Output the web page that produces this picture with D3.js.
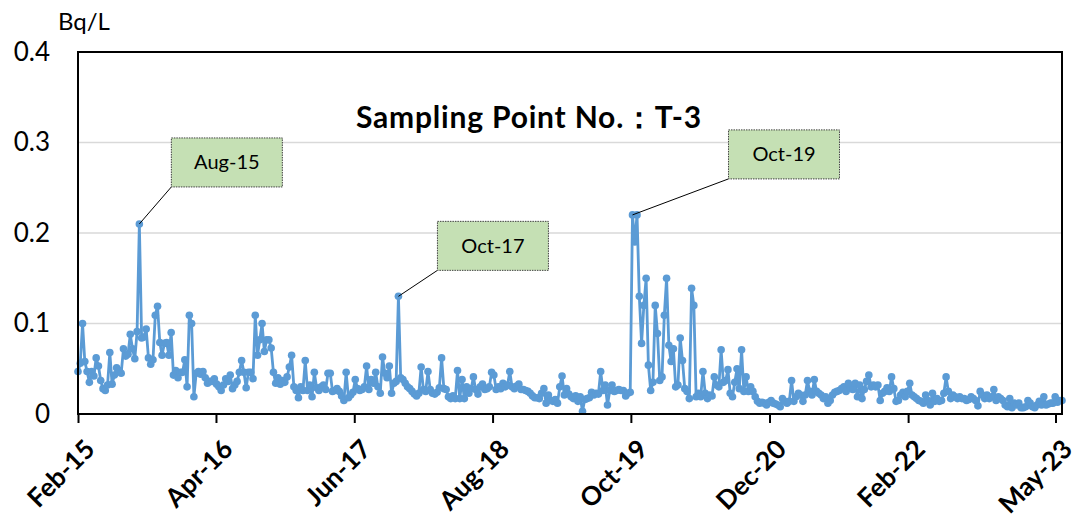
<!DOCTYPE html>
<html>
<head>
<meta charset="utf-8">
<script src="https://d3js.org/d3.v7.min.js"></script>
<style>
	body { margin: 0; background: #ffffff; }
	svg text { font-family: Lato, "Open Sans", sans-serif; }
</style>
</head>
<body>
<div id="chart"></div>
<script>

//Chart texts
var title = "Sampling Point No.\uFF1AT-3";
var unit = "Bq/L";

//Samples are weekly, the first one taken at the start of Feb 2015
var firstSample = "2015-02-01";

var tickLabels = ["Feb-15", "Apr-16", "Jun-17", "Aug-18", "Oct-19", "Dec-20", "Feb-22", "May-23"];
var yTicks = [0, 0.1, 0.2, 0.3, 0.4];

//Months whose peak gets a callout
var calloutLabels = ["Aug-15", "Oct-17", "Oct-19"];

//Weekly readings (Bq/L), one array per year
var values2015 = [0.047, 0.056, 0.100, 0.058, 0.047, 0.035, 0.047, 0.042, 0.062, 0.053, 0.037, 0.028,
	0.026, 0.032, 0.068, 0.033, 0.043, 0.051, 0.048, 0.045, 0.072, 0.064, 0.066, 0.088,
	0.072, 0.061, 0.091, 0.210, 0.084, 0.085, 0.094, 0.062, 0.055, 0.060, 0.109, 0.119,
	0.079, 0.065, 0.078, 0.079, 0.065, 0.090, 0.043, 0.048, 0.040, 0.046, 0.046, 0.060];

var values2016 = [0.030, 0.109, 0.100, 0.019, 0.045, 0.047, 0.044, 0.047, 0.040, 0.034, 0.036, 0.036,
	0.039, 0.033, 0.030, 0.026, 0.032, 0.039, 0.036, 0.043, 0.028, 0.032, 0.036, 0.046,
	0.059, 0.046, 0.029, 0.046, 0.046, 0.039, 0.109, 0.065, 0.082, 0.100, 0.069, 0.082,
	0.082, 0.073, 0.046, 0.034, 0.040, 0.033, 0.037, 0.035, 0.041, 0.052, 0.065, 0.030,
	0.026, 0.018, 0.030, 0.026];

var values2017 = [0.059, 0.026, 0.032, 0.019, 0.046, 0.029, 0.026, 0.030, 0.032, 0.027, 0.045, 0.045,
	0.025, 0.026, 0.028, 0.025, 0.020, 0.015, 0.046, 0.018, 0.021, 0.024, 0.038, 0.028,
	0.026, 0.027, 0.030, 0.053, 0.027, 0.038, 0.034, 0.046, 0.030, 0.023, 0.063, 0.045,
	0.040, 0.053, 0.023, 0.034, 0.036, 0.130, 0.040, 0.038, 0.034, 0.030, 0.028, 0.025,
	0.022, 0.020, 0.023, 0.052];

var values2018 = [0.027, 0.025, 0.047, 0.027, 0.023, 0.022, 0.024, 0.029, 0.062, 0.028, 0.027, 0.019,
	0.017, 0.020, 0.017, 0.048, 0.017, 0.038, 0.017, 0.030, 0.023, 0.028, 0.041, 0.027,
	0.022, 0.030, 0.033, 0.027, 0.028, 0.030, 0.046, 0.043, 0.027, 0.030, 0.028, 0.034,
	0.030, 0.032, 0.047, 0.030, 0.028, 0.031, 0.033, 0.027, 0.027, 0.026, 0.025, 0.023,
	0.020, 0.018, 0.018, 0.017];

var values2019 = [0.023, 0.028, 0.012, 0.021, 0.015, 0.014, 0.016, 0.012, 0.030, 0.042, 0.021, 0.028,
	0.022, 0.019, 0.017, 0.020, 0.014, 0.019, 0.003, 0.016, 0.017, 0.018, 0.024, 0.021,
	0.023, 0.022, 0.047, 0.026, 0.032, 0.010, 0.026, 0.032, 0.025, 0.026, 0.027, 0.026,
	0.026, 0.020, 0.023, 0.024, 0.220, 0.190, 0.220, 0.130, 0.078, 0.120, 0.150, 0.054,
	0.026, 0.035, 0.120, 0.089];

var values2020 = [0.037, 0.041, 0.109, 0.150, 0.076, 0.058, 0.072, 0.030, 0.032, 0.084, 0.059, 0.028,
	0.025, 0.017, 0.139, 0.120, 0.019, 0.023, 0.019, 0.047, 0.023, 0.017, 0.021, 0.020,
	0.041, 0.032, 0.030, 0.071, 0.035, 0.037, 0.049, 0.023, 0.019, 0.035, 0.050, 0.028,
	0.071, 0.025, 0.041, 0.025, 0.030, 0.025, 0.019, 0.014, 0.012, 0.013, 0.012, 0.010,
	0.013, 0.015, 0.012, 0.011];

var values2021 = [0.010, 0.008, 0.017, 0.014, 0.012, 0.014, 0.037, 0.014, 0.019, 0.023, 0.021, 0.014,
	0.021, 0.037, 0.025, 0.021, 0.038, 0.025, 0.023, 0.021, 0.017, 0.019, 0.012, 0.015,
	0.021, 0.024, 0.025, 0.026, 0.028, 0.030, 0.025, 0.034, 0.028, 0.027, 0.034, 0.019,
	0.032, 0.017, 0.027, 0.036, 0.043, 0.030, 0.032, 0.030, 0.032, 0.015, 0.023, 0.025,
	0.029, 0.025, 0.041, 0.028];

var values2022 = [0.014, 0.015, 0.021, 0.024, 0.019, 0.025, 0.034, 0.021, 0.019, 0.017, 0.015, 0.014,
	0.012, 0.021, 0.015, 0.010, 0.023, 0.014, 0.017, 0.014, 0.015, 0.023, 0.041, 0.025,
	0.017, 0.021, 0.019, 0.017, 0.019, 0.017, 0.017, 0.015, 0.016, 0.019, 0.017, 0.015,
	0.009, 0.025, 0.021, 0.017, 0.021, 0.017, 0.019, 0.027, 0.015, 0.019, 0.017, 0.015,
	0.010, 0.008, 0.017, 0.007];

var values2023 = [0.012, 0.010, 0.012, 0.007, 0.007, 0.008, 0.015, 0.012, 0.008, 0.007, 0.010, 0.014,
	0.010, 0.019, 0.010, 0.011, 0.012, 0.012, 0.019, 0.013, 0.015, 0.015];


var width = 1073;
var height = 526;
var plot = {left: 78, top: 52, right: 1062, bottom: 414};

var lineColor = "#5B9BD5";

//Callout box position relative to the peak it points to
var calloutLayout = [
	{dx: 32, dy: -86},
	{dx: 39, dy: -75},
	{dx: 96, dy: -85}
];
var boxW = 111;
var boxH = 49;

var parseIso = d3.timeParse("%Y-%m-%d");
var parseLabel = d3.timeParse("%b-%y");

//Put the yearly arrays together into one weekly series
var allValues = [].concat(values2015, values2016, values2017, values2018, values2019,
	values2020, values2021, values2022, values2023);

var start = parseIso(firstSample);
var data = allValues.map(function(v, i)
	{
		return {date: d3.timeDay.offset(start, 7 * i), value: v};
	}
);

var svg = d3.select("#chart")
	.append("svg")
		.attr("width", width)
		.attr("height", height);

var x = d3.scaleTime()
	.domain([data[0].date, data[data.length - 1].date])
	.range([plot.left, plot.right]);

var y = d3.scaleLinear()
	.domain([0, 0.4])
	.range([plot.bottom, plot.top]);

//gridlines
svg.append("g")
	.attr("class", "grid")
	.selectAll("line")
	.data(yTicks)
	.enter()
		.append("line")
			.attr("x1", plot.left)
			.attr("x2", plot.right)
			.attr("y1", function(d){return y(d);})
			.attr("y2", function(d){return y(d);})
			.attr("stroke", "#d9d9d9")
			.attr("stroke-width", 1.5);

//y axis labels only, no ticks
var yAxis = d3.axisLeft(y)
	.tickValues(yTicks)
	.tickSize(0)
	.tickPadding(28)
	.tickFormat(function(d){return d === 0 ? "0" : d3.format(".1f")(d);});

var gy = svg.append("g")
	.attr("transform", "translate(" + plot.left + ",0)")
	.call(yAxis);

gy.select(".domain").remove();
gy.selectAll("text")
	.attr("font-family", "Lato, sans-serif")
	.attr("font-size", 26)
	.attr("fill", "#000");

//x axis
var tickDates = tickLabels.map(function(t){return parseLabel(t);});

var xAxis = d3.axisBottom(x)
	.tickValues(tickDates)
	.tickSize(9)
	.tickSizeOuter(0)
	.tickFormat(d3.timeFormat("%b-%y"));

var gx = svg.append("g")
	.attr("transform", "translate(0," + plot.bottom + ")")
	.call(xAxis);

gx.select(".domain").remove();
gx.selectAll(".tick line")
	.attr("stroke", "#000")
	.attr("stroke-width", 2);

gx.selectAll(".tick text")
	.attr("font-family", "Lato, sans-serif")
	.attr("font-weight", "bold")
	.attr("font-size", 26)
	.attr("fill", "#000")
	.attr("text-anchor", "end")
	.attr("dy", "0.35em")
	.attr("transform", "translate(3,22) rotate(-45)");

//series
var line = d3.line()
	.x(function(d){return x(d.date);})
	.y(function(d){return y(d.value);});

svg.append("path")
	.datum(data)
	.attr("fill", "none")
	.attr("stroke", lineColor)
	.attr("stroke-width", 2.8)
	.attr("stroke-linejoin", "round")
	.attr("d", line);

svg.append("g")
	.selectAll("circle")
	.data(data)
	.enter()
		.append("circle")
			.attr("cx", function(d){return x(d.date);})
			.attr("cy", function(d){return y(d.value);})
			.attr("r", 3.8)
			.attr("fill", lineColor);

//plot border
svg.append("rect")
	.attr("x", plot.left)
	.attr("y", plot.top)
	.attr("width", plot.right - plot.left)
	.attr("height", plot.bottom - plot.top)
	.attr("fill", "none")
	.attr("stroke", "#000")
	.attr("stroke-width", 2);

//unit label
svg.append("text")
	.attr("x", 58)
	.attr("y", 30)
	.attr("font-size", 24)
	.attr("fill", "#000")
	.text(unit);

//title
svg.append("text")
	.attr("x", 529)
	.attr("y", 128)
	.attr("text-anchor", "middle")
	.attr("font-size", 30)
	.attr("font-weight", "bold")
	.attr("letter-spacing", 0.8)
	.attr("fill", "#000")
	.text(title);

//callouts: find the peak of each month, then draw leader line and box
calloutLabels.forEach(function(label, i)
	{
		var m0 = parseLabel(label);
		var m1 = d3.timeMonth.offset(m0, 1);
		var inMonth = data.filter(function(d){return d.date >= m0 && d.date < m1;});
		var peak = inMonth[d3.maxIndex(inMonth, function(d){return d.value;})];

		var px = x(peak.date);
		var py = y(peak.value);
		var bx = px + calloutLayout[i].dx;
		var by = py + calloutLayout[i].dy;

		svg.append("line")
			.attr("x1", px)
			.attr("y1", py)
			.attr("x2", bx)
			.attr("y2", by + boxH)
			.attr("stroke", "#000")
			.attr("stroke-width", 1);

		svg.append("rect")
			.attr("x", bx)
			.attr("y", by)
			.attr("width", boxW)
			.attr("height", boxH)
			.attr("fill", "#C5E0B4")
			.attr("stroke", "#404040")
			.attr("stroke-width", 1)
			.attr("stroke-dasharray", "1.5,1");

		svg.append("text")
			.attr("x", bx + boxW / 2)
			.attr("y", by + boxH / 2)
			.attr("dy", "0.35em")
			.attr("text-anchor", "middle")
			.attr("font-size", 20)
			.attr("fill", "#000")
			.text(label);
	}
);

</script>
</body>
</html>
